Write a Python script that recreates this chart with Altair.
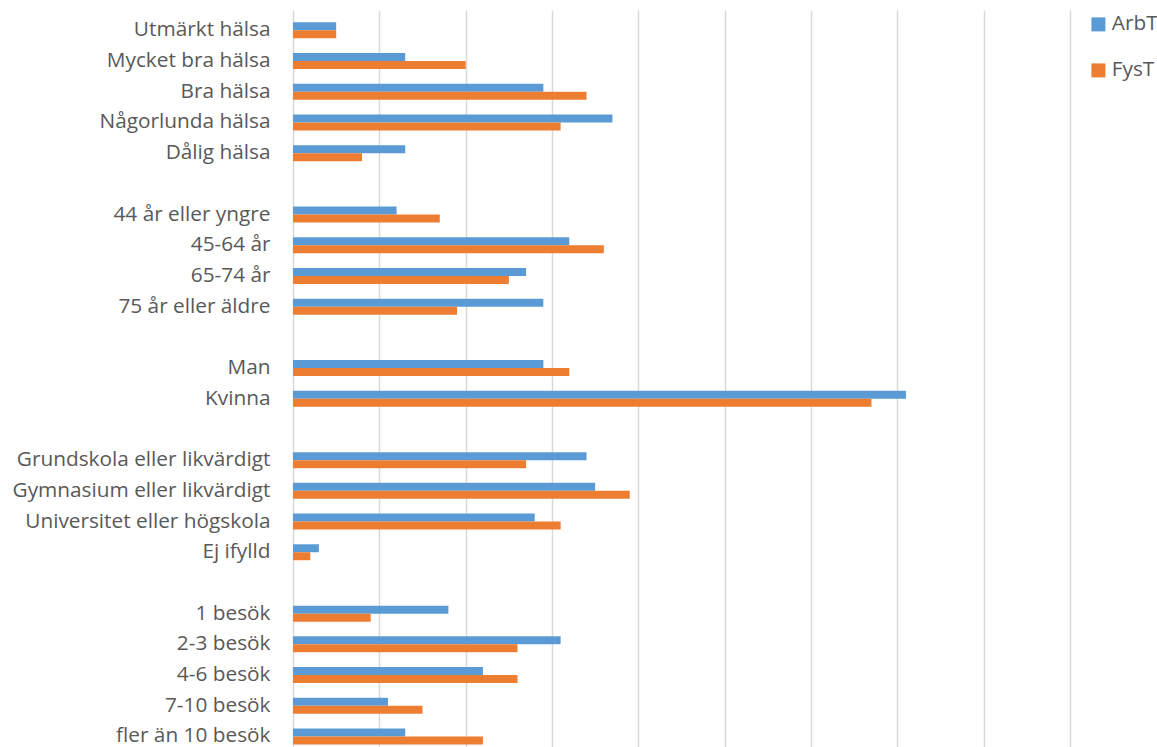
import altair as alt
import pandas as pd

# Survey groups, shown top to bottom with a blank row between groups
health = ["Utmärkt hälsa", "Mycket bra hälsa", "Bra hälsa", "Någorlunda hälsa", "Dålig hälsa"]
health_arbt = [5, 13, 29, 37, 13]
health_fyst = [5, 20, 34, 31, 8]

age = ["44 år eller yngre", "45-64 år", "65-74 år", "75 år eller äldre"]
age_arbt = [12, 32, 27, 29]
age_fyst = [17, 36, 25, 19]

sex = ["Man", "Kvinna"]
sex_arbt = [29, 71]
sex_fyst = [32, 67]

education = ["Grundskola eller likvärdigt", "Gymnasium eller likvärdigt",
             "Universitet eller högskola", "Ej ifylld"]
education_arbt = [34, 35, 28, 3]
education_fyst = [27, 39, 31, 2]

visits = ["1 besök", "2-3 besök", "4-6 besök", "7-10 besök", "fler än 10 besök"]
visits_arbt = [18, 31, 22, 11, 13]
visits_fyst = [9, 26, 26, 15, 22]

series = ["ArbT", "FysT"]
colors = ["#5B9BD5", "#ED7D31"]

groups = [
    (health, health_arbt, health_fyst),
    (age, age_arbt, age_fyst),
    (sex, sex_arbt, sex_fyst),
    (education, education_arbt, education_fyst),
    (visits, visits_arbt, visits_fyst),
]

rows = []
domain = []
for gi, (cats, arbt, fyst) in enumerate(groups):
    if gi > 0:
        domain.append(f"gap-{gi}")
    for c, a, f in zip(cats, arbt, fyst):
        domain.append(c)
        rows.append({"kategori": c, "serie": "ArbT", "andel": a})
        rows.append({"kategori": c, "serie": "FysT", "andel": f})
df = pd.DataFrame(rows)

LEFT = 293
TOP = 15
PLOT_W = 777
PLOT_H = 732
STEP = 30.7
label_color = "#595959"
font = "Open Sans"
font_size = 20.8

chart = (
    alt.Chart(df)
    .mark_bar(clip=True)
    .encode(
        x=alt.X(
            "andel:Q",
            scale=alt.Scale(domain=[0, 90], nice=False),
            axis=alt.Axis(title=None, labels=False, ticks=False, domain=False,
                          grid=True, gridColor="#D9D9D9", gridWidth=1.5,
                          values=list(range(0, 100, 10))),
        ),
        y=alt.Y(
            "kategori:N",
            sort=domain,
            scale=alt.Scale(domain=domain, range=[0, STEP * len(domain)],
                            paddingInner=0.48, paddingOuter=0.24),
            axis=alt.Axis(title=None, ticks=False, domain=False, grid=False,
                          labelFontSize=font_size, labelFont=font, labelColor=label_color,
                          labelPadding=23, labelLimit=300,
                          labelExpr="indexof(datum.value, 'gap-') == 0 ? '' : datum.value"),
        ),
        yOffset=alt.YOffset("serie:N", sort=series,
                            scale=alt.Scale(paddingInner=0, paddingOuter=0)),
        color=alt.Color(
            "serie:N",
            sort=series,
            scale=alt.Scale(domain=series, range=colors),
            legend=alt.Legend(title=None, orient="none", legendX=795, legendY=-1,
                              symbolType="square", symbolSize=196,
                              symbolStrokeWidth=0, labelFontSize=font_size, labelFont=font,
                              labelColor=label_color, labelOffset=3, rowPadding=24,
                              padding=0),
        ),
    )
    .properties(
        width=PLOT_W,
        height=PLOT_H,
        background="white",
        autosize=alt.AutoSizeParams(type="none"),
        padding={"left": LEFT, "top": TOP, "right": 1157 - LEFT - PLOT_W, "bottom": 0},
    )
    .configure_view(stroke=None)
)

chart.save("out.html", embed_options={"renderer": "svg", "actions": False})
